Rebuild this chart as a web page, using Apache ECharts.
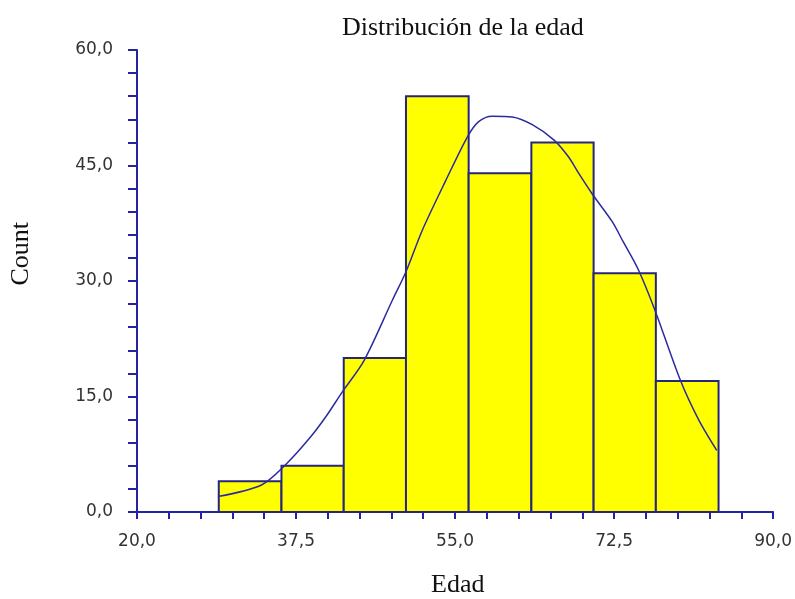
<!DOCTYPE html>
<html>
<head>
<meta charset="utf-8">
<script src="https://cdn.jsdelivr.net/npm/echarts@6/dist/echarts.min.js"></script>
<style>
html,body{margin:0;padding:0;background:#fff;}
#chart{width:795px;height:599px;}
</style>
</head>
<body>
<div id="chart"></div>
<script>
// Histogram bins (edges of Edad) and counts
var binEdges = [29, 35.9, 42.75, 49.6, 56.5, 63.4, 70.25, 77.1, 84];
var binCounts = [4, 6, 20, 54, 44, 48, 31, 17];
// Fitted curve
var curveX = [28.9, 33.7, 36.4, 39.0, 40.8, 42.6, 45.0, 48.1, 49.6, 51.4, 54.0, 56.35, 57.6, 59.1, 61.3, 63.5, 65.9, 67.5, 68.6, 70.1, 72.3, 73.5, 75.2, 77.0, 79.8, 81.8, 83.8];
var curveY = [2.0, 3.5, 6.2, 9.6, 12.4, 15.6, 19.7, 27.5, 31.2, 36.6, 43.1, 48.7, 50.7, 51.4, 51.3, 50.3, 48.3, 46.1, 44.0, 41.3, 37.7, 35.1, 31.4, 26.2, 17.1, 12.0, 8.0];
var titleText = 'Distribución de la edad';
var xName = 'Edad';
var yName = 'Count';

var fmt = function (v) { return v.toFixed(1).replace('.', ','); };

var barData = binCounts.map(function (c, i) { return [binEdges[i], binEdges[i + 1], c]; });
var lineData = curveX.map(function (x, i) { return [x, curveY[i]]; });

var axisColor = '#2424a0';
var serif = '"Liberation Serif", "Times New Roman", serif';
var chart = echarts.init(document.getElementById('chart'), null, {renderer: 'canvas'});
chart.setOption({
  animation: false,
  backgroundColor: '#ffffff',
  title: {
    text: titleText,
    left: 342, top: 15, padding: 0,
    textStyle: {fontFamily: serif, fontWeight: 'normal', fontSize: 26, color: '#111'}
  },
  graphic: [
    {type: 'text', left: 8, top: 222, rotation: Math.PI / 2,
     style: {text: yName, font: '26px "Liberation Serif"', fill: '#111'}},
    {type: 'text', left: 431, top: 572,
     style: {text: xName, font: '26px "Liberation Serif"', fill: '#111'}}
  ],
  grid: {left: 137, right: 20, top: 50, bottom: 87, containLabel: false},
  xAxis: {
    type: 'value', min: 20, max: 90, interval: 3.5,
    splitLine: {show: false},
    axisLine: {onZero: false, lineStyle: {color: axisColor, width: 2}},
    axisTick: {show: true, inside: false, length: 7, lineStyle: {color: axisColor, width: 2}},
    axisLabel: {
      margin: 21, color: '#333', fontFamily: 'DejaVu Sans', fontSize: 17,
      showMinLabel: true, showMaxLabel: true, hideOverlap: false,
      formatter: function (v) {
        var k = (v - 20) / 17.5;
        return Math.abs(k - Math.round(k)) < 1e-6 ? fmt(v) : '';
      }
    }
  },
  yAxis: {
    type: 'value', min: 0, max: 60, interval: 3,
    splitLine: {show: false},
    axisLine: {show: true, lineStyle: {color: axisColor, width: 2}},
    axisTick: {show: true, inside: false, length: 9, lineStyle: {color: axisColor, width: 2}},
    axisLabel: {
      margin: 24, color: '#333', fontFamily: 'DejaVu Sans', fontSize: 17,
      showMinLabel: true, showMaxLabel: true, hideOverlap: false,
      formatter: function (v) {
        return Math.abs(v % 15) < 1e-6 ? fmt(v) : '';
      }
    }
  },
  series: [
    {
      type: 'custom',
      data: barData,
      encode: {x: [0, 1], y: 2},
      renderItem: function (params, api) {
        var p0 = api.coord([api.value(0), api.value(2)]);
        var p1 = api.coord([api.value(1), 0]);
        return {
          type: 'rect',
          shape: {x: p0[0], y: p0[1], width: p1[0] - p0[0], height: p1[1] - p0[1]},
          style: {fill: '#ffff00', stroke: '#26267e', lineWidth: 2}
        };
      },
      z: 2
    },
    {
      type: 'line',
      data: lineData,
      showSymbol: false,
      smooth: 0.3,
      lineStyle: {color: '#2b2ba0', width: 1.5},
      z: 3
    }
  ]
});
</script>
</body>
</html>
